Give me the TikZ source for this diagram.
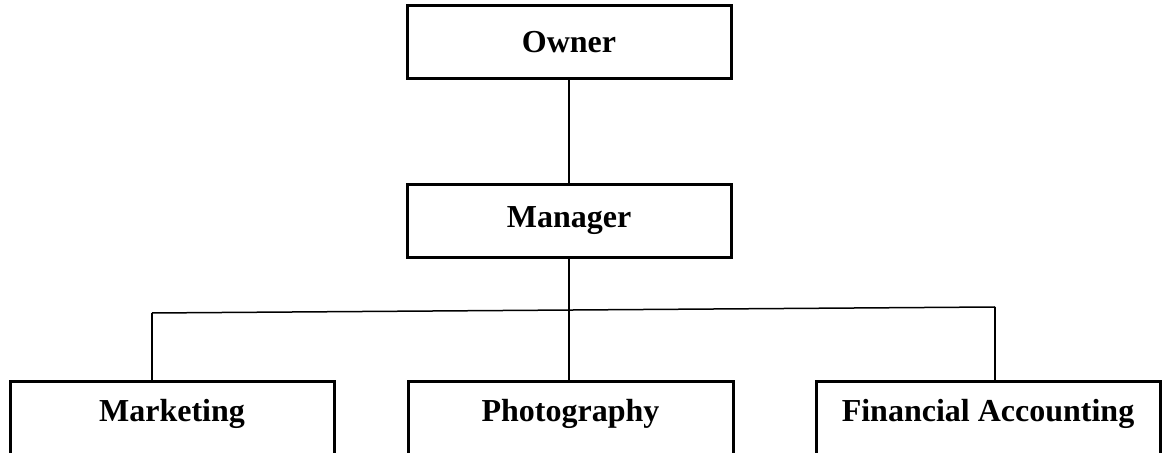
\documentclass[tikz,border=0pt]{standalone}
\usepackage{fontspec}
\setmainfont{Liberation Serif}
\usepackage{tikz}
\usetikzlibrary{positioning}
\tikzstyle{boss} = [rectangle, minimum width=162pt, minimum height=36.5pt, inner sep=0pt, text centered, draw=black, line width=1.5pt, font=\bfseries\fontsize{16}{19}\selectfont]
\tikzstyle{dept} = [rectangle, inner xsep=0pt, inner ysep=0pt, text height=20pt, text depth=60pt, text centered, draw=black, line width=1.5pt, font=\bfseries\fontsize{16}{19}\selectfont]
\tikzstyle{link} = [line width=0.75pt]

\begin{document}
\begin{tikzpicture}[x=0.5pt, y=-0.5pt]
\useasboundingbox (0,0) rectangle (1166,453);
\clip (0,0) rectangle (1166,453);

\node (owner) [boss] at (569,42.5) {Owner};
\node (manager) [boss] at (569,221) {Manager};
\draw [link] (owner) -- (manager);

\node (marketing) [dept, minimum width=162pt, anchor=north] at (172,380) {Marketing};
\node (photo) [dept, minimum width=162.5pt, anchor=north] at (570.5,380) {Photography};
\node (finance) [dept, minimum width=172pt, anchor=north] at (988,380) {Financial Accounting};

\coordinate (lbranch) at (152,313);
\coordinate (rbranch) at (995,307);
\draw [link] (lbranch) -- (rbranch);
\draw [link] (manager.south) -- (manager.south |- photo.north);
\draw [link] (lbranch) -- (lbranch |- marketing.north);
\draw [link] (rbranch) -- (rbranch |- finance.north);

\end{tikzpicture}
\end{document}
